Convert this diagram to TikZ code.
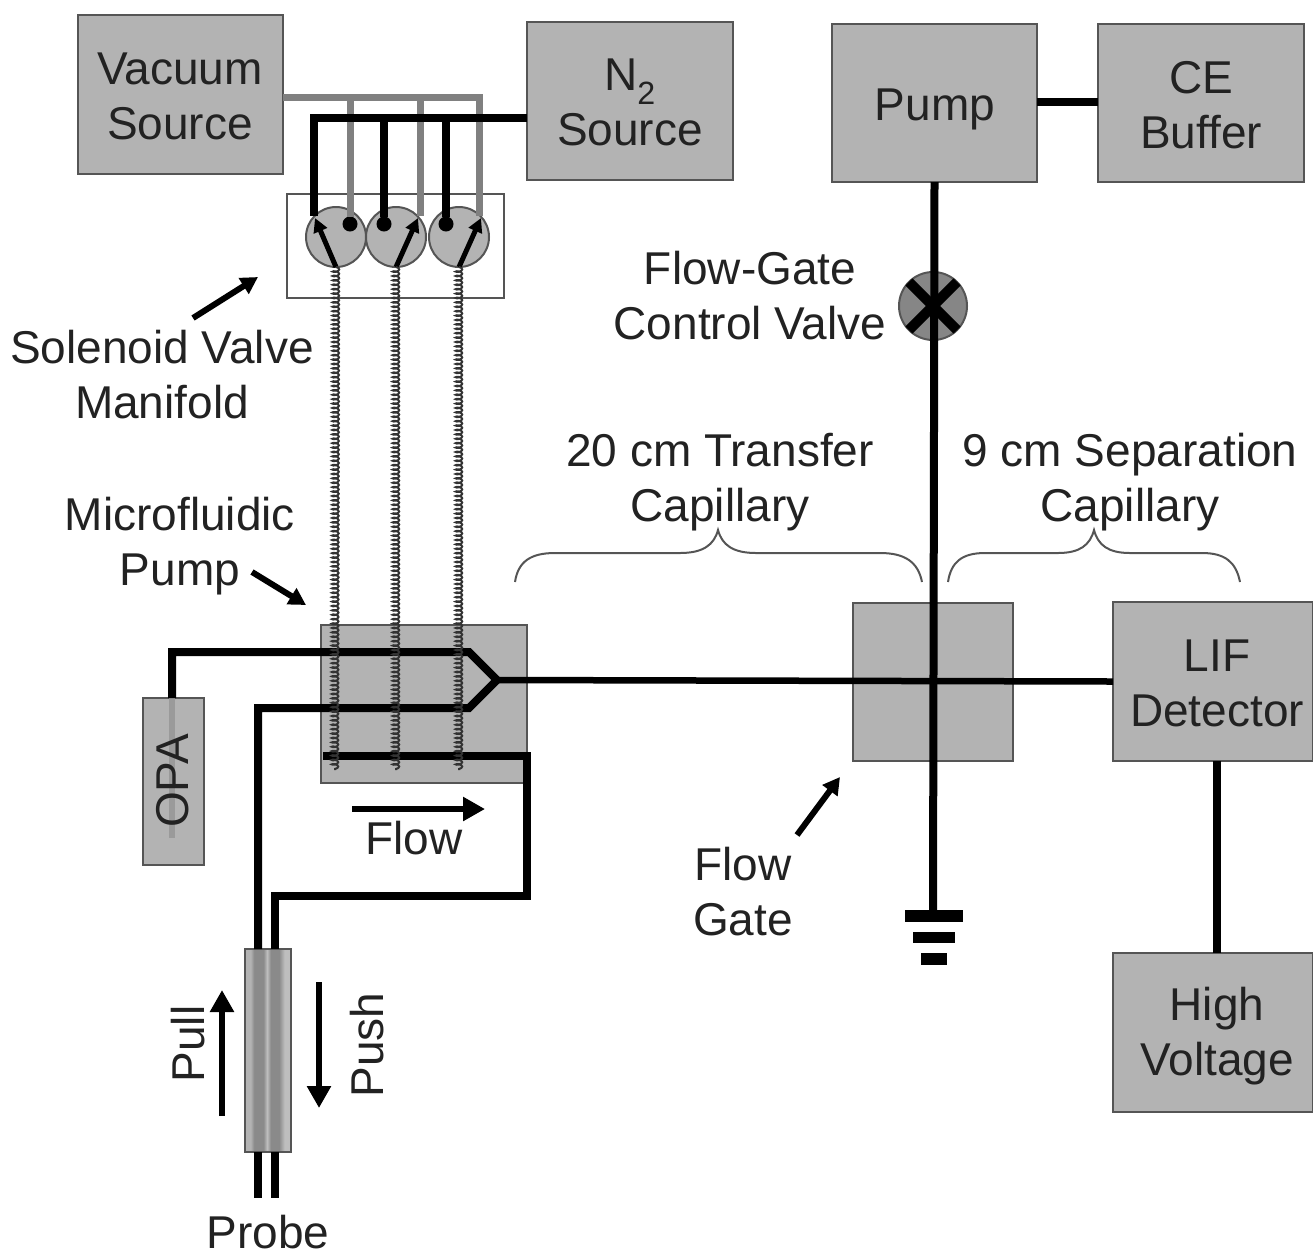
\documentclass[tikz,border=0pt]{standalone}
\usepackage{fontspec}
\setmainfont{Liberation Sans}
\usetikzlibrary{arrows.meta,decorations.pathmorphing}
\definecolor{boxfill}{HTML}{B3B3B3}
\definecolor{boxedge}{HTML}{555555}
\definecolor{graywire}{HTML}{808080}
\definecolor{inktext}{HTML}{222222}
\definecolor{probedark}{HTML}{8A8A8A}
\definecolor{probelight}{HTML}{BEBEBE}
\pgfdeclarehorizontalshading{probeshade}{100bp}{
  color(0bp)=(probelight);
  color(25bp)=(boxfill);
  color(31bp)=(boxfill);
  color(35bp)=(probedark);
  color(45bp)=(probedark);
  color(49bp)=(probelight);
  color(53bp)=(probedark);
  color(62bp)=(probedark);
  color(68bp)=(probelight);
  color(75bp)=(probelight);
  color(100bp)=(probelight)}
\tikzset{
  every node/.style={inner sep=0pt,outer sep=0pt},
  label text/.style={font=\fontsize{46}{55}\selectfont,align=center,text=inktext},
  greybox/.style={draw=boxedge,fill=boxfill,line width=2.5pt,rectangle},
  wire/.style={draw=black,line width=8pt,line join=miter},
  thinwire/.style={draw=black,line width=6.5pt,line join=miter},
  gwire/.style={draw=graywire,line width=7pt},
  valve/.style={circle,draw=boxedge,fill=boxfill,line width=2pt,minimum size=60pt},
  dotnode/.style={circle,fill=black,minimum size=15pt},
  callout/.style={draw=black,line width=6pt,-{Triangle[length=17pt,width=18pt]}},
  bigarrow/.style={draw=black,line width=6.5pt,-{Triangle[length=22pt,width=23pt]}},
  valvearrow/.style={draw=black,line width=5pt,-{Triangle[length=14pt,width=14pt]}},
  coilwire/.style={draw=black!80,line width=2pt,decorate,
    decoration={coil,aspect=0.4,amplitude=3.2pt,segment length=4.4pt}},
  bracewire/.style={draw=boxedge,line width=2pt},
  groundbar/.style={fill=black,rectangle}
}
\begin{document}
\begin{tikzpicture}[x=1pt,y=-1pt]
\useasboundingbox (0,0) rectangle (1313,1259);
% boxes
\node[greybox,minimum width=205pt,minimum height=159pt] (vac) at (180.5,94.5) {};
\node[greybox,minimum width=206pt,minimum height=158pt] (n2) at (630,101) {};
\node[greybox,minimum width=205pt,minimum height=158pt] (pump) at (934.5,103) {};
\node[greybox,minimum width=206pt,minimum height=158pt] (ce) at (1201,103) {};
\node[greybox,minimum width=200pt,minimum height=159pt] (lif) at (1213,681.5) {};
\node[greybox,minimum width=200pt,minimum height=159pt] (hv) at (1213,1032.5) {};
\node[greybox,minimum width=206pt,minimum height=158pt] (mfp) at (424,704) {};
\node[greybox,minimum width=160pt,minimum height=158pt] (fg) at (933,682) {};
\node[greybox,minimum width=61pt,minimum height=167pt] (opa) at (173.5,781.5) {};
\node[draw=boxedge,line width=2pt,minimum width=217pt,minimum height=104pt] (mani) at (395.5,246) {};
\node[valve] (v1) at (336,237) {};
\node[valve] (v2) at (396,237) {};
\node[valve] (v3) at (459,237) {};
\node[circle,draw=boxedge,fill=boxfill!75!black,line width=2pt,minimum size=68pt] (ctrl) at (933,306) {};
% coordinates
\coordinate (gt) at (479,97);
\coordinate (g1) at (350,97);
\coordinate (g2) at (420,97);
\coordinate (ge3) at (479,216);
\coordinate (ge2) at (420,216);
\coordinate (bt) at (314,118);
\coordinate (b2) at (384,118);
\coordinate (b3) at (446,118);
\coordinate (be1) at (314,216);
\coordinate (a1) at (315,218);
\coordinate (a2) at (418,218);
\coordinate (a3) at (481,218);
\coordinate (c1) at (335,770);
\coordinate (c2) at (396,770);
\coordinate (c3) at (459,770);
\coordinate (j) at (497,680);
\coordinate (ju) at (469,652);
\coordinate (jd) at (469,708);
\coordinate (opaup) at (172,652);
\coordinate (opatop) at (172,698);
\coordinate (opaend) at (172,838);
\coordinate (pl) at (258,708);
\coordinate (rs) at (323,756);
\coordinate (rc) at (527,756);
\coordinate (rb) at (527,896);
\coordinate (rl) at (275,896);
% probe
\node[draw=boxedge,line width=2pt,shading=probeshade,minimum width=46pt,minimum height=203pt] (probe) at (268,1050.5) {};
\coordinate (pe1) at (258,1198);
\coordinate (pe2) at (275,1198);
\coordinate (pin1) at (258,949);
\coordinate (pin2) at (275,949);
\coordinate (pbo1) at (258,1152);
\coordinate (pbo2) at (275,1152);
% gray wires
\draw[graywire!80!white,line width=6pt] (opatop) -- (opaend);
\draw[gwire] (vac.east |- gt) -- (gt) -- (ge3);
\node[dotnode] (d1) at (350,224) {};
\node[dotnode] (d2) at (384,224) {};
\node[dotnode] (d3) at (446,224) {};
\draw[gwire] (g1) -- (d1);
\draw[gwire] (g2) -- (ge2);
% black wires
\draw[wire] (n2.west |- bt) -- (bt) -- (be1);
\draw[wire] (b2) -- (d2);
\draw[wire] (b3) -- (d3);
\draw[valvearrow] (v1.south) -- (a1);
\draw[valvearrow] (v2.south) -- (a2);
\draw[valvearrow] (v3.south) -- (a3);
% microfluidic channels
\draw[wire] (opatop) -- (opaup) -- (ju) -- (j) -- (jd) -- (pl) -- (pin1);
\draw[thinwire] (j) -- (lif.west);
\draw[wire] (rs) -- (rc) -- (rb) -- (rl) -- (pin2);
\draw[wire] (pbo1) -- (pe1);
\draw[wire] (pbo2) -- (pe2);
% coils
\draw[coilwire] (v1.south) -- (c1);
\draw[coilwire] (v2.south) -- (c2);
\draw[coilwire] (v3.south) -- (c3);
% pump lines
\draw[wire] (pump.east |- 0,102) -- (ce.west |- 0,102);
\coordinate (gnd) at (933,910);
\draw[wire] (pump.south) -- (gnd);
\draw[wire,line width=10pt] (ctrl.45) -- (ctrl.225);
\draw[wire,line width=10pt] (ctrl.135) -- (ctrl.315);
\draw[wire] (lif.south -| 1217,0) -- (hv.north -| 1217,0);
% ground
\node[groundbar,minimum width=58pt,minimum height=12pt] (g-a) at (934,916) {};
\node[groundbar,minimum width=42pt,minimum height=11pt] (g-b) at (934,937.5) {};
\node[groundbar,minimum width=26pt,minimum height=12pt] (g-c) at (934,959) {};
% arrows
\coordinate (sa) at (193,318);\coordinate (sb) at (258,277);
\coordinate (ma) at (252,572);\coordinate (mb) at (306,605);
\coordinate (fa) at (797,835);\coordinate (fb) at (840,777);
\draw[callout] (sa) -- (sb);
\draw[callout] (ma) -- (mb);
\draw[callout] (fa) -- (fb);
\coordinate (fla) at (352,809);\coordinate (flb) at (485,809);
\draw[bigarrow] (fla) -- (flb);
\coordinate (pua) at (222,1116);\coordinate (pub) at (222,990);
\draw[bigarrow] (pua) -- (pub);
\coordinate (psa) at (319,982);\coordinate (psb) at (319,1108);
\draw[bigarrow] (psa) -- (psb);
% braces
\draw[bracewire] (515,582) .. controls (518,562) and (530,553) .. (555,553) -- (680,553)
  .. controls (703,553) and (714,545) .. (718,530) .. controls (722,545) and (733,553) .. (756,553)
  -- (880,553) .. controls (905,553) and (918,562) .. (922,582);
\draw[bracewire] (948,582) .. controls (951,562) and (962,553) .. (985,553) -- (1058,553)
  .. controls (1080,553) and (1090,545) .. (1094,530) .. controls (1098,545) and (1108,553) .. (1130,553)
  -- (1202,553) .. controls (1225,553) and (1236,562) .. (1240,582);
% labels
\node[label text] (tvac) at (180,96) {Vacuum\\Source};
\node[label text] (tn2) at (630,102) {N\textsubscript{2}\\Source};
\node[label text] (tpump) at (935,109) {Pump};
\node[label text] (tce) at (1201,105) {CE\\Buffer};
\node[label text] (tlif) at (1217,683) {LIF\\Detector};
\node[label text] (thv) at (1217,1036) {High\\Voltage};
\node[label text] (tsol) at (162,375) {Solenoid Valve\\Manifold};
\node[label text] (tfgc) at (750,296) {Flow-Gate\\Control Valve};
\node[label text] (ttr) at (720,482) {20 cm Transfer\\Capillary};
\node[label text] (tsep) at (1130,482) {9 cm Separation\\Capillary};
\node[label text] (tmic) at (180,546) {Microfluidic\\Pump};
\node[label text] (tfg) at (743,892) {Flow\\Gate};
\node[label text] (tflow) at (414,838) {Flow};
\node[label text] (tprobe) at (268,1232) {Probe};
\node[label text,rotate=90] (topa) at (173,781) {OPA};
\node[label text,rotate=90] (tpull) at (188,1044) {Pull};
\node[label text,rotate=90] (tpush) at (367,1045) {Push};
\end{tikzpicture}
\end{document}
